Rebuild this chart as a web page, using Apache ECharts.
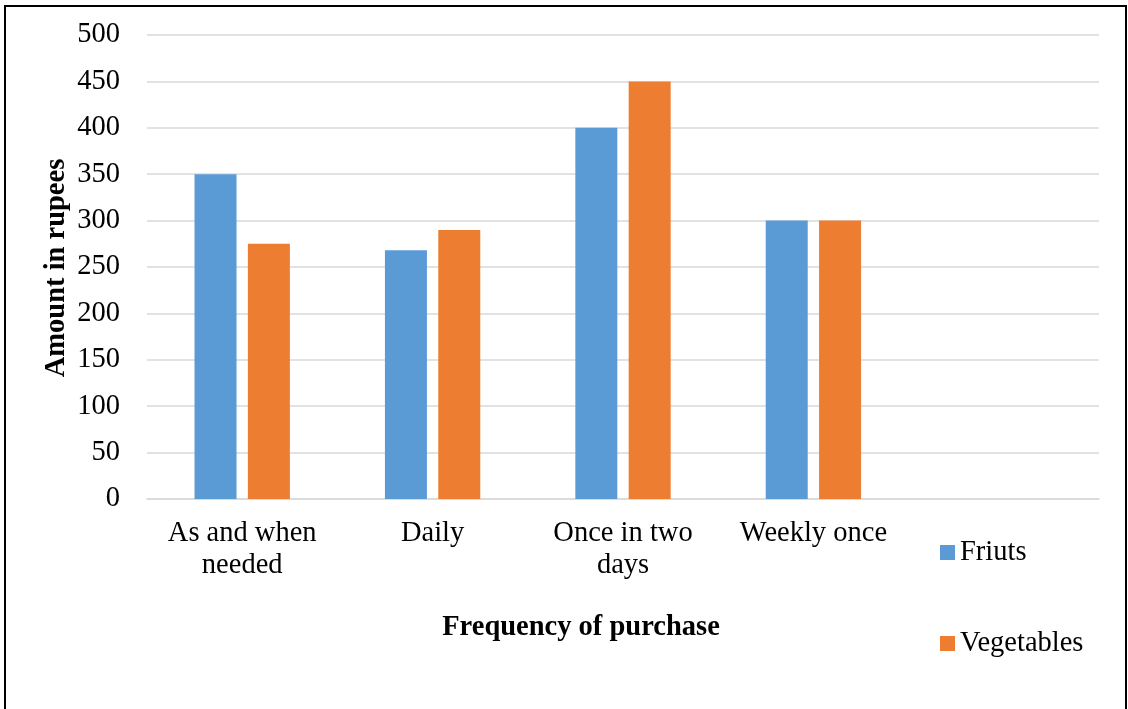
<!DOCTYPE html>
<html>
<head>
<meta charset="utf-8">
<script src="https://cdn.jsdelivr.net/npm/echarts@6/dist/echarts.min.js"></script>
<style>
html,body{margin:0;padding:0;background:#fff;}
#chart{width:1128px;height:709px;}
</style>
</head>
<body>
<div id="chart"></div>
<script>
const categories = ['As and when\nneeded', 'Daily', 'Once in two\ndays', 'Weekly once', ''];
const fruits = [350, 268, 400, 300, null];
const vegetables = [275, 290, 450, 300, null];
const yTicks = { min: 0, max: 500, interval: 50 };

const FONT = '"Liberation Serif", "Times New Roman", serif';
const FS = 28.5;
const chart = echarts.init(document.getElementById('chart'), null, { renderer: 'canvas' });
chart.setOption({
  animation: false,
  backgroundColor: '#fff',
  textStyle: { fontFamily: FONT, color: '#000' },
  grid: { left: 147, right: 29, top: 35, bottom: 210, containLabel: false },
  graphic: [
    { type: 'rect', shape: { x: 5, y: 6, width: 1121, height: 720 }, style: { fill: 'none', stroke: '#000', lineWidth: 2 }, z: 100 },
    { type: 'text', x: 581, y: 628, style: { text: 'Frequency of purchase', font: 'bold ' + FS + 'px ' + FONT, fill: '#000', textAlign: 'center', textVerticalAlign: 'middle' } },
    { type: 'text', x: 57, y: 268, rotation: Math.PI / 2, style: { text: 'Amount in rupees', font: 'bold ' + FS + 'px ' + FONT, fill: '#000', textAlign: 'center', textVerticalAlign: 'middle' } }
  ],
  legend: {
    orient: 'vertical',
    left: 940, top: 538,
    padding: 0,
    itemWidth: 15, itemHeight: 15, itemGap: 62,
    icon: 'rect',
    textStyle: { fontFamily: FONT, fontSize: FS, color: '#000' },
    data: ['Friuts', 'Vegetables']
  },
  xAxis: {
    type: 'category',
    data: categories,
    axisLine: { lineStyle: { color: '#d9d9d9', width: 1.5 } },
    axisTick: { show: false },
    axisLabel: { interval: 0, fontFamily: FONT, fontSize: FS, color: '#000', lineHeight: 32, margin: 19 }
  },
  yAxis: {
    type: 'value',
    min: yTicks.min, max: yTicks.max, interval: yTicks.interval,
    axisLine: { show: false },
    axisTick: { show: false },
    axisLabel: { fontFamily: FONT, fontSize: FS, color: '#000', margin: 27 },
    splitLine: { lineStyle: { color: '#d9d9d9', width: 1.5 } }
  },
  series: [
    { name: 'Friuts', type: 'bar', data: fruits, barWidth: 42, barGap: '27%', itemStyle: { color: '#5B9BD5' } },
    { name: 'Vegetables', type: 'bar', data: vegetables, barWidth: 42, barGap: '27%', itemStyle: { color: '#ED7D31' } }
  ]
});
</script>
</body>
</html>
